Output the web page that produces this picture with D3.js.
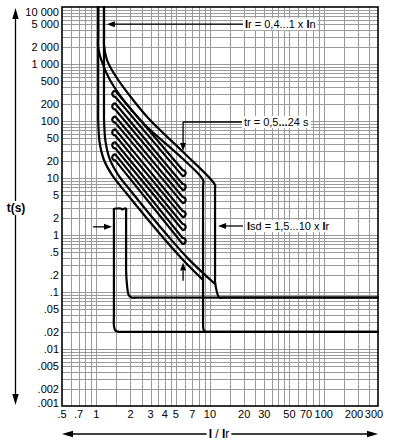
<!doctype html>
<html>
  <head>
    <title>Trip curve</title>
    <script src="https://d3js.org/d3.v7.min.js"></script>
    <style>
        body {
            margin: 0;
            padding: 0;
            background: #fff;
        }
        svg {
            display: block;
            font-family: "Liberation Sans", Arial, sans-serif;
        }
        .grid line {
            stroke: #9a9a9a;
            stroke-width: 1;
            shape-rendering: crispEdges;
        }
        .curve {
            fill: none;
            stroke: #000;
            stroke-width: 2.2;
            stroke-linejoin: round;
            stroke-linecap: round;
        }
        .tickLabel {
            font-size: 11px;
            fill: #000;
        }
    </style>
  </head>
  <body>
    <div id="chart"></div>
    <script>
        /*
        Data: x = I / Ir, y = t (s)
        */
        var xTicks = [0.5, 0.7, 1, 2, 3, 4, 5, 7, 10, 20, 30, 50, 70, 100, 200, 300];
        var xTickLabels = [".5", ".7", "1", "2", "3", "4", "5", "7", "10", "20", "30", "50", "70", "100", "200", "300"];
        var yTicks = [10000, 5000, 2000, 1000, 500, 200, 100, 50, 20, 10, 5, 2, 1, 0.5, 0.2, 0.1, 0.05, 0.02, 0.01, 0.005, 0.002, 0.001];
        var yTickLabels = ["10 000", "5 000", "2 000", "1 000", "500", "200", "100", "50", "20", "10", "5", "2", "1", ".5", ".2", ".1", ".05", ".02", ".01", ".005", ".002", ".001"];
        var xGridSteps = [1, 1.5, 2, 2.5, 3, 3.5, 4, 4.5, 5, 6, 7, 8, 9];
        var yGridSteps = [1, 2, 3, 4, 5, 6, 7, 8, 9];

        // tr max band (upper pair), ending on the Isd max lines
        var curveU1 = [[1.04, 10000], [1.04, 3000], [1.04, 1986], [1.124, 1084], [1.32, 524], [1.79, 215], [2.685, 85.1], [5.8, 21.5], [8.69, 9.22], [8.69, 7], [8.69, 0.035], [8.69, 0.03], [8.75, 0.0225], [9.0, 0.0203], [9.6, 0.02], [10.5, 0.02], [300, 0.02]];
        var curveU2 = [[1.17, 10000], [1.17, 3000], [1.17, 2155], [1.244, 1175], [1.46, 641], [1.98, 275], [2.97, 104], [5.8, 28.6], [11.08, 7.53], [11.08, 6.5], [11.08, 0.18], [11.08, 0.15], [12.06, 0.08], [13, 0.08], [300, 0.08]];
        // tr min band (lower pair)
        var curveL1 = [[1.04, 10000], [1.04, 300], [1.04, 130], [1.04, 104], [1.069, 42.8], [1.17, 20.7], [1.376, 11.3], [1.865, 5.24], [3.64, 1.04], [5.8, 0.364], [8.69, 0.162]];
        var curveL2 = [[1.17, 10000], [1.17, 300], [1.17, 135], [1.17, 110], [1.206, 44], [1.32, 21], [1.554, 11.5], [2.106, 5.3], [4.11, 1.05], [6.55, 0.37], [11.08, 0.138]];
        // Isd min lines with their cap
        var curveIsdMin = [[300, 0.02], [1.75, 0.02], [1.58, 0.02], [1.47, 0.0212], [1.43, 0.026], [1.43, 0.04], [1.43, 2.6], [1.43, 2.86], [1.52, 2.92], [1.64, 2.92], [1.71, 2.82], [1.77, 2.92], [1.83, 2.86], [1.83, 2.5], [1.83, 0.28], [1.83, 0.243], [1.87, 0.125], [1.93, 0.088], [2.05, 0.08], [2.3, 0.08], [300, 0.08]];

        // intermediate tr settings, centre of each band at its two ends
        var bandI = [1.47, 5.75];
        var bandLeftT = [300, 180, 106, 63, 37.5, 23];
        var bandRightT = [12.2, 6.95, 4.1, 2.33, 1.38, 0.785];
        var bandSpread = 1.13;

        /*
        Layout
        */
        var width = 395;
        var height = 445;
        var plot = {left: 62, right: 378, top: 7, bottom: 406};

        var x = d3.scaleLog()
            .domain([0.5, 300])
            .range([plot.left, plot.right]);

        var y = d3.scaleLog()
            .domain([0.001, 10000])
            .range([plot.bottom, plot.top]);

        var svg = d3.select("#chart")
            .append("svg")
            .attr("width", width)
            .attr("height", height);

        /*
        Grid
        */
        var xGrid = [];
        [0.1, 1, 10, 100].forEach(function(dec) {
            xGridSteps.forEach(function(s) {
                var v = +(s * dec).toPrecision(6);
                if (v > 0.5 && v < 300) xGrid.push(v);
            });
        });
        var yGrid = [];
        [0.001, 0.01, 0.1, 1, 10, 100, 1000].forEach(function(dec) {
            yGridSteps.forEach(function(s) {
                var v = +(s * dec).toPrecision(6);
                if (v > 0.001 && v < 10000) yGrid.push(v);
            });
        });

        var grid = svg.append("g").attr("class", "grid");
        grid.selectAll(".vx")
            .data(xGrid)
            .enter()
            .append("line")
            .attr("x1", (d) => Math.round(x(d)) + 0.5)
            .attr("x2", (d) => Math.round(x(d)) + 0.5)
            .attr("y1", plot.top)
            .attr("y2", plot.bottom);
        grid.selectAll(".hy")
            .data(yGrid)
            .enter()
            .append("line")
            .attr("y1", (d) => Math.round(y(d)) + 0.5)
            .attr("y2", (d) => Math.round(y(d)) + 0.5)
            .attr("x1", plot.left)
            .attr("x2", plot.right);

        svg.append("rect")
            .attr("x", plot.left)
            .attr("y", plot.top)
            .attr("width", plot.right - plot.left)
            .attr("height", plot.bottom - plot.top)
            .attr("fill", "none")
            .attr("stroke", "#000")
            .attr("stroke-width", 1.6);

        /*
        Tick labels
        */
        svg.selectAll(".yLabel")
            .data(yTicks)
            .enter()
            .append("text")
            .attr("class", "tickLabel")
            .attr("text-anchor", "end")
            .attr("x", plot.left - 3)
            .attr("y", (d) => Math.min(Math.max(y(d) + 4, plot.top + 9), plot.bottom + 1))
            .text((d, i) => yTickLabels[i]);

        svg.selectAll(".xLabel")
            .data(xTicks)
            .enter()
            .append("text")
            .attr("class", "tickLabel")
            .attr("text-anchor", "middle")
            .attr("x", (d) => x(d) - (d >= 200 ? 4 : 0))
            .attr("y", plot.bottom + 12)
            .text((d, i) => xTickLabels[i]);

        /*
        Curves
        */
        var line = d3.line()
            .x((d) => x(d[0]))
            .y((d) => y(d[1]))
            .curve(d3.curveCatmullRom.alpha(0.5));

        svg.selectAll(".curve")
            .data([curveU1, curveU2, curveL1, curveL2, curveIsdMin])
            .enter()
            .append("path")
            .attr("class", "curve")
            .attr("d", line);

        //tr bands drawn as narrow loops
        var r = 3;
        svg.selectAll(".band")
            .data(bandLeftT)
            .enter()
            .append("path")
            .attr("class", "curve")
            .attr("d", function(d, i) {
                var xl = x(bandI[0]), xr = x(bandI[1]);
                var tl = y(d * bandSpread), bl = y(d / bandSpread);
                var tr = y(bandRightT[i] * bandSpread), br = y(bandRightT[i] / bandSpread);
                return "M" + xl + "," + tl + "L" + xr + "," + tr +
                    "A" + r + "," + r + " 0 0 1 " + xr + "," + br +
                    "L" + xl + "," + bl +
                    "A" + r + "," + r + " 0 0 1 " + xl + "," + tl + "Z";
            });

        /*
        Annotations
        */
        function arrow(x1, y1, x2, y2, len, half, w) {
            var a = Math.atan2(y2 - y1, x2 - x1);
            var bx = x2 - len * Math.cos(a), by = y2 - len * Math.sin(a);
            svg.append("line")
                .attr("x1", x1).attr("y1", y1)
                .attr("x2", bx).attr("y2", by)
                .attr("stroke", "#000")
                .attr("stroke-width", w || 1.3);
            svg.append("path")
                .attr("d", "M" + x2 + "," + y2 +
                    "L" + (bx + half * Math.sin(a)) + "," + (by - half * Math.cos(a)) +
                    "L" + (bx - half * Math.sin(a)) + "," + (by + half * Math.cos(a)) + "Z")
                .attr("fill", "#000");
        }

        function note(parts, xPos, yPos, anchor, size) {
            var g = svg.append("g");
            var bg = g.append("rect").attr("fill", "#fff");
            var t = g.append("text")
                .attr("x", xPos)
                .attr("y", yPos)
                .attr("text-anchor", anchor)
                .style("font-size", size + "px");
            parts.forEach(function(p) {
                t.append("tspan")
                    .attr("font-weight", p[1] ? "bold" : "normal")
                    .text(p[0]);
            });
            var b = t.node().getBBox();
            bg.attr("x", b.x - 2)
                .attr("y", b.y)
                .attr("width", b.width + 4)
                .attr("height", b.height);
        }

        // Ir
        arrow(x(19.5), y(5000), x(1.24), y(5000), 8, 3);
        note([["I", true], ["r = 0,4...1 x ", false], ["I", true], ["n", false]], x(19.5) + 2, y(5000) + 4, "start", 11);

        // tr
        svg.append("line")
            .attr("x1", x(19.1)).attr("y1", y(96))
            .attr("x2", x(5.8)).attr("y2", y(96))
            .attr("stroke", "#000").attr("stroke-width", 1.3);
        arrow(x(5.8), y(96), x(5.8), y(29.8), 8, 3);
        note([["tr = 0,5", false], ["...", true], ["24 s", false]], x(19.1) + 2, y(96) + 4, "start", 11);

        // Isd
        arrow(x(19.5), y(1.44), x(11.77), y(1.44), 8, 3);
        note([["I", true], ["sd = 1,5...10 x ", false], ["I", true], ["r", false]], x(19.5) + 4, y(1.44) + 4, "start", 11);
        arrow(x(0.937), y(1.39), x(1.376), y(1.39), 8, 3);

        // tr min pointer
        arrow(x(5.8), y(0.157), x(5.8), y(0.33), 8, 3);

        // axis arrows
        arrow(15.5, 210, 15.5, plot.top + 1, 11, 3.2);
        arrow(15.5, 210, 15.5, plot.bottom - 1, 11, 3.2);
        note([["t(s)", true]], 16, 212, "middle", 12);

        arrow(220, 434, plot.left, 434, 11, 3.2);
        arrow(220, 434, plot.right, 434, 11, 3.2);
        note([["I", true], [" / ", false], ["I", true], ["r", false]], 219, 438, "middle", 12);
    </script>
  </body>
</html>
